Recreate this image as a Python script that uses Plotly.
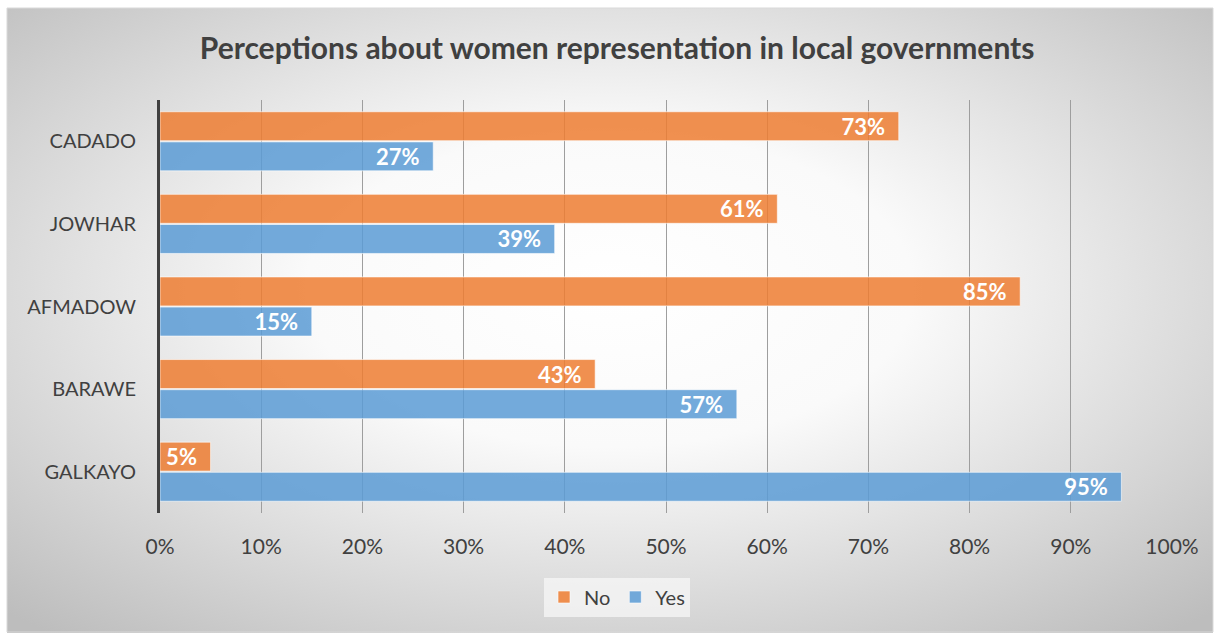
import base64
import plotly.graph_objects as go

categories = ["CADADO", "JOWHAR", "AFMADOW", "BARAWE", "GALKAYO"]
no_values = [73, 61, 85, 43, 5]
yes_values = [27, 39, 15, 57, 95]
x_ticks = [0, 10, 20, 30, 40, 50, 60, 70, 80, 90, 100]
x_tick_labels = [f"{v}%" for v in x_ticks]
series_names = ["No", "Yes"]

W, H = 1216, 633
L, R, T, B = 160, 44, 100, 120
pw, ph = W - L - R, H - T - B

svg = (
    '<svg xmlns="http://www.w3.org/2000/svg" width="1206" height="625" viewBox="0 0 1206 625" preserveAspectRatio="none">'
    '<defs><radialGradient id="g" cx="50%" cy="45%" r="72%">'
    '<stop offset="0%" stop-color="#ffffff"/><stop offset="35%" stop-color="#fafafa"/>'
    '<stop offset="100%" stop-color="#bdbdbd"/></radialGradient></defs>'
    '<rect x="0" y="0" width="1206" height="625" fill="url(#g)"/></svg>'
)
src = "data:image/svg+xml;base64," + base64.b64encode(svg.encode()).decode()

def px_x(p):
    return (p - L) / pw

def px_y(p):
    return (H - B - p) / ph

FONT = "Lato"
PAD = "\u00a0\u00a0"

fig = go.Figure()
fig.add_trace(go.Bar(
    y=categories, x=no_values, name=series_names[0], orientation="h",
    marker=dict(color="rgba(237,125,49,0.85)", line=dict(color="rgba(255,255,255,0.6)", width=1)),
    text=[f"{v}%{PAD}" for v in no_values], textposition="inside", insidetextanchor="end",
    constraintext="none", cliponaxis=False,
    textfont=dict(color="white", size=22, family=FONT, weight="bold"),
))
fig.add_trace(go.Bar(
    y=categories, x=yes_values, name=series_names[1], orientation="h",
    marker=dict(color="rgba(91,155,213,0.85)", line=dict(color="rgba(255,255,255,0.6)", width=1)),
    text=[f"{v}%{PAD}" for v in yes_values], textposition="inside", insidetextanchor="end",
    constraintext="none", cliponaxis=False,
    textfont=dict(color="white", size=22, family=FONT, weight="bold"),
))

fig.update_layout(
    width=W, height=H,
    margin=dict(l=L, r=R, t=T, b=B, pad=0),
    paper_bgcolor="white", plot_bgcolor="rgba(0,0,0,0)",
    barmode="group", bargap=0.27, bargroupgap=0.04,
    font=dict(family=FONT, color="#404040", size=20),
    title=dict(text="<b>Perceptions about women representation in local governments</b>",
               x=0.5075, xanchor="center", y=1 - 48 / H, yanchor="middle", yref="container",
               font=dict(size=30, color="#404040", family=FONT)),
    xaxis=dict(range=[0, 100], tickvals=x_ticks, ticktext=x_tick_labels,
               showgrid=True, gridcolor="#9e9e9e", gridwidth=1, zeroline=False,
               showline=False, ticks="", tickfont=dict(size=21, color="#404040"), ticklabelstandoff=19),
    yaxis=dict(autorange="reversed", showline=True, linecolor="#404040", linewidth=3,
               showgrid=False, ticks="", tickfont=dict(size=20, color="#404040"), ticklabelstandoff=17),
    legend=dict(orientation="h", x=0.5 + (617 - (L + pw / 2)) / pw, xanchor="center",
                y=px_y(597), yanchor="middle", bgcolor="rgba(245,245,245,0.8)",
                font=dict(size=20, color="#404040"), traceorder="normal", itemwidth=30),
    showlegend=True,
    images=[dict(source=src, xref="paper", yref="paper", x=px_x(7), y=px_y(8),
                 sizex=1206 / pw, sizey=625 / ph, sizing="stretch", layer="below",
                 xanchor="left", yanchor="top")],
    shapes=[dict(type="rect", xref="paper", yref="paper", x0=px_x(7), x1=px_x(1213),
                 y0=px_y(8), y1=px_y(632), line=dict(color="#d9d9d9", width=1), layer="below")],
)

fig.write_html("out.html")
